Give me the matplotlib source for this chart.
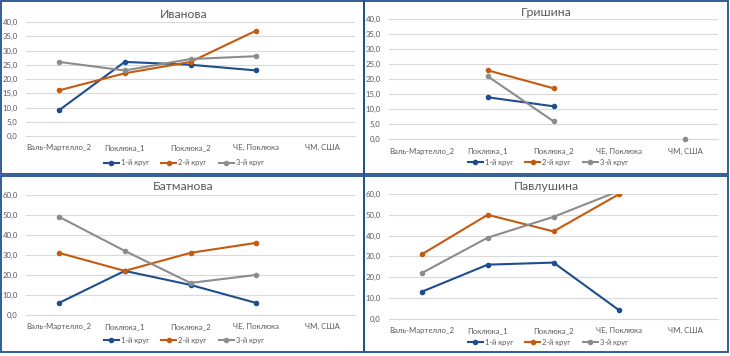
import numpy as np
import matplotlib
matplotlib.use("Agg")
import matplotlib.pyplot as plt
from matplotlib.ticker import FuncFormatter, MultipleLocator
from matplotlib.patches import Rectangle
from matplotlib.lines import Line2D

nan = np.nan
categories = ["Валь-Мартелло_2", "Поклюка_1", "Поклюка_2", "ЧЕ, Поклюка", "ЧМ, США"]
series_names = ["1-й круг", "2-й круг", "3-й круг"]

ivanova_r1 = [9, 26, 25, 23, nan]
ivanova_r2 = [16, 22, 26, 37, nan]
ivanova_r3 = [26, 23, 27, 28, nan]

grishina_r1 = [nan, 14, 11, nan, nan]
grishina_r2 = [nan, 23, 17, nan, nan]
grishina_r3 = [nan, 21, 6, nan, 0]

batmanova_r1 = [6, 22, 15, 6, nan]
batmanova_r2 = [31, 22, 31, 36, nan]
batmanova_r3 = [49, 32, 16, 20, nan]

pavlushina_r1 = [13, 26, 27, 4, nan]
pavlushina_r2 = [31, 50, 42, 60, nan]
pavlushina_r3 = [22, 39, 49, 61.5, nan]

colors = ["#1F4E8C", "#C55A11", "#8C8C8C"]
FONT = "Lato"
TEXT = "#595959"

W, H = 730, 356
fig = plt.figure(figsize=(W / 100, H / 100), dpi=100)


def fx(x):
    return x / W


def fy(y):
    return 1 - y / H


panels = [
    dict(title="Иванова", data=[ivanova_r1, ivanova_r2, ivanova_r3], ymax=40, step=5,
         box=(26, 22, 355, 136), title_y=15, leg=(184, 163), clip=True),
    dict(title="Гришина", data=[grishina_r1, grishina_r2, grishina_r3], ymax=40, step=5,
         box=(389, 19.3, 718, 139.3), title_y=13, leg=(548, 162), clip=False),
    dict(title="Батманова", data=[batmanova_r1, batmanova_r2, batmanova_r3], ymax=60, step=10,
         box=(26, 194.7, 355, 315), title_y=187, leg=(184, 340), clip=True),
    dict(title="Павлушина", data=[pavlushina_r1, pavlushina_r2, pavlushina_r3], ymax=60, step=10,
         box=(389, 194, 718, 318.7), title_y=186, leg=(548, 342), clip=True),
]

x = np.arange(len(categories))
for p in panels:
    x0, y0, x1, y1 = p["box"]
    ax = fig.add_axes([fx(x0), fy(y1), fx(x1) - fx(x0), fy(y0) - fy(y1)])
    for vals, c in zip(p["data"], colors):
        ax.plot(x, vals, color=c, lw=1.5, marker="o", ms=3.0, clip_on=p["clip"], zorder=3)
    ax.set_xlim(-0.5, len(categories) - 0.5)
    ax.set_ylim(0, p["ymax"])
    ax.yaxis.set_major_locator(MultipleLocator(p["step"]))
    ax.yaxis.set_major_formatter(FuncFormatter(lambda v, pos: f"{v:.1f}".replace(".", ",")))
    ax.set_xticks(x)
    ax.set_xticklabels(categories)
    ax.grid(axis="y", color="#D9D9D9", lw=0.8)
    ax.set_axisbelow(True)
    for s in ["top", "right", "left"]:
        ax.spines[s].set_visible(False)
    ax.spines["bottom"].set_color("#D9D9D9")
    ax.spines["bottom"].set_linewidth(0.8)
    ax.tick_params(axis="both", length=0, labelsize=5.6, labelcolor=TEXT)
    ax.tick_params(axis="x", pad=6)
    ax.tick_params(axis="y", pad=6)
    for lab in ax.get_xticklabels() + ax.get_yticklabels():
        lab.set_fontfamily(FONT)
    fig.text(fx((x0 + x1) / 2 - 7), fy(p["title_y"]), p["title"], ha="center", va="center",
             fontsize=8.8, color=TEXT, family=FONT)
    handles = [Line2D([], [], color=c, lw=1.5, marker="o", ms=3.0) for c in colors]
    fig.legend(handles, series_names, loc="center", bbox_to_anchor=(fx(p["leg"][0]), fy(p["leg"][1])),
               ncol=3, frameon=False, handlelength=2.0, handletextpad=0.3, columnspacing=1.6,
               prop=dict(family=FONT, size=5.4), labelcolor=TEXT)

# panel frames
frame = "#24508F"
for (l, t, r, b) in [(1, 1, 364, 174), (364, 1, 728, 174), (1, 176, 364, 352), (364, 176, 728, 352)]:
    fig.add_artist(Rectangle((fx(l), fy(b)), fx(r) - fx(l), fy(t) - fy(b), transform=fig.transFigure,
                             fill=False, ec=frame, lw=1.3))

fig.savefig("out.png", dpi=100)
